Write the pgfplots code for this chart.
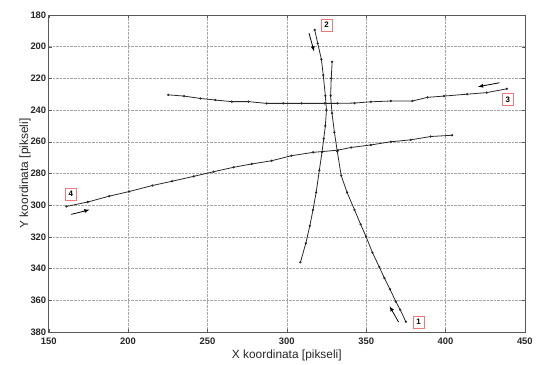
\documentclass[border=0pt]{standalone}
\usepackage{pgfplots}
\pgfplotsset{compat=1.18}
\usepackage{fontspec}
\setmainfont{Liberation Sans}
\usetikzlibrary{calc}
\definecolor{trk}{RGB}{40,40,40}
\definecolor{boxc}{RGB}{240,120,120}
\begin{document}
\begin{tikzpicture}
\begin{axis}[
  name=ax,
  scale only axis,
  width=479bp, height=319bp,
  xmin=150, xmax=450, ymin=180, ymax=380,
  y dir=reverse,
  xtick={150,200,...,450},
  ytick={180,200,...,380},
  grid=major,
  major grid style={densely dotted, gray!70, line width=0.5pt},
  axis line style={gray!70!black, line width=0.6pt},
  tick style={gray!70!black},
  tick align=inside,
  major tick length=3pt,
  tick label style={font=\fontsize{9.5}{10}\selectfont\bfseries, text=black!85},
  /pgf/number format/assume math mode=true,
  xticklabel style={yshift=-2pt},
  yticklabel style={xshift=1pt},
  xlabel={X koordinata [pikseli]},
  ylabel={Y koordinata [pikseli]},
  label style={font=\fontsize{12}{13}\selectfont, text=black!85},
  xlabel style={yshift=1pt},
  ylabel style={yshift=-7pt},
  clip=false,
]
% trajectory 1
\addplot[trk, line width=0.8pt, mark=*, mark size=0.7pt] coordinates {
(375,373.5)(371.5,366)(368.7,360.8)(365,353)(361.5,346)(358.3,339)(354,330)(350,320)(346.5,312)(342.7,303)(338,292)(334.3,281.4)(331.8,266)(330,254)(328.5,242)(327.6,231)(328,220)(328.6,209.5)
};
% trajectory 2
\addplot[trk, line width=0.8pt, mark=*, mark size=0.7pt] coordinates {
(317.6,189.4)(319.5,198)(321.8,208)(323,218)(324.3,231)(325,240)(324.3,250)(323.3,258)(322.2,266.5)(320.5,278)(318.5,292)(316.5,303)(314.5,313)(312,324)(308.6,336)
};
% trajectory 3
\addplot[trk, line width=0.8pt, mark=*, mark size=0.7pt] coordinates {
(438.7,226.6)(426,229)(413.6,230)(399,231.2)(388.6,232)(379.2,234.3)(365.6,234.3)(353,234.8)(342.7,235.6)(332,235.8)(323.9,235.8)(309.2,235.8)(297.8,235.8)(287.3,235.8)(275.9,234.7)(265.4,234.7)(255,233.7)(245.6,232.7)(235.2,231.2)(225.3,230.4)
};
% trajectory 4
\addplot[trk, line width=0.8pt, mark=*, mark size=0.7pt] coordinates {
(161.1,300.8)(174.6,298)(188.2,294.3)(200.7,291.4)(215.3,287.6)(227.8,284.9)(241.4,281.8)(253.9,278.9)(266.5,276.1)(277.9,274)(290.4,272)(302.9,268.8)(316.6,266.7)(332.2,265.3)(340.5,263.6)(353,262)(365.6,260)(378.1,258.8)(390.6,256.7)(404.2,255.9)
};
% direction arrows
\draw[-latex, black, line width=0.8pt] (axis cs:370.4,373.7) -- (axis cs:364.8,363.7);
\draw[-latex, black, line width=0.8pt] (axis cs:314,191.5) -- (axis cs:317.2,203);
\draw[-latex, black, line width=0.8pt] (axis cs:434,222.8) -- (axis cs:420.5,225.3);
\draw[-latex, black, line width=0.8pt] (axis cs:164.2,305.8) -- (axis cs:175.7,302.9);
% labels
\tikzset{numbox/.style={draw=boxc, fill=white, line width=0.6pt, inner sep=1.5pt, minimum width=11bp, minimum height=12bp, font=\fontsize{8}{8}\selectfont\bfseries}}
\node[numbox] at (axis cs:383,373.7) {1};
\node[numbox] at (axis cs:325,186.3) {2};
\node[numbox] at (axis cs:439.2,233.3) {3};
\node[numbox] at (axis cs:164,292.9) {4};
\end{axis}
\path ($(ax.south west)+(-49bp,-29bp)$) rectangle ($(ax.north east)+(8bp,15bp)$);
\end{tikzpicture}
\end{document}
